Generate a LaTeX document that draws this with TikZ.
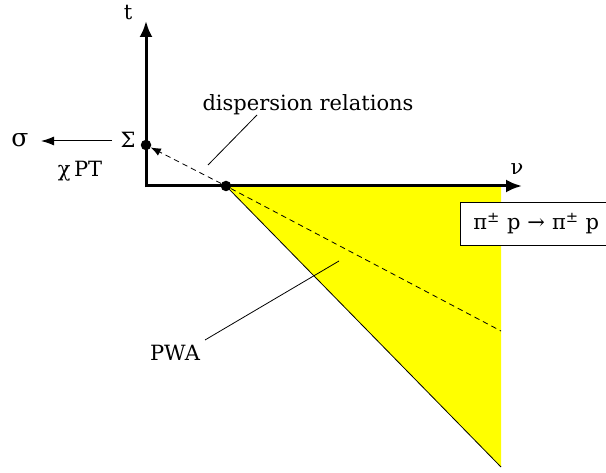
\documentclass[tikz,border=0pt]{standalone}
\usepackage{fontspec}
\setmainfont{DejaVu Serif}
\usetikzlibrary{arrows.meta}
\definecolor{pureyellow}{RGB}{255,255,0}
\tikzset{
  lbl/.style={inner sep=0pt, font=\fontsize{21}{24}\selectfont},
  axis/.style={line width=3pt, -{Latex[length=16pt,width=13pt]}},
  thin/.style={line width=0.8pt},
  dot/.style={circle, fill=black, inner sep=0pt, minimum size=10.5pt},
  dsh/.style={thin, dash pattern=on 5.5pt off 4pt},
}
\begin{document}
\begin{tikzpicture}[x=1pt,y=-1pt]
\useasboundingbox (0,0) rectangle (606,473);
% yellow region
\fill[pureyellow] (226,186) -- (501,186) -- (501,467) -- cycle;
\draw[thin] (226,186) -- (501,467);
% axes
\coordinate (O) at (146,186);
\coordinate (T) at (146,21);
\coordinate (N) at (522,186);
\draw[line width=3pt] (146,187.5) -- (O);
\draw[axis] (O) -- (T);
\draw[axis] (O) -- (N);
\node[lbl, anchor=base] (tl) at (128,20) {t};
\node[lbl, anchor=base] (nl) at (517,175) {ν};
% dots
\node[dot] (S) at (146,145) {};
\node[dot] (P) at (226,186) {};
\coordinate (Dend) at (501,331);
% dashed line
\draw[dsh] (P) -- (Dend);
\draw[dsh, -{Latex[length=10pt,width=8pt]}] (P) -- (S);
% Sigma, sigma, chiPT
\node[lbl, anchor=base] (Sig) at (128,148) {Σ};
\node[lbl, anchor=base, font=\fontsize{25}{28}\selectfont] (sig) at (20,147) {σ};
\coordinate (a1) at (112,141);
\coordinate (a2) at (41,141);
\draw[line width=1pt, -{Latex[length=13pt,width=9pt]}] (a1) -- (a2);
\node[lbl, anchor=base] (chi) at (80,177) {χ\,PT};
% dispersion relations
\node[lbl, anchor=base] (disp) at (308,111) {dispersion relations};
\coordinate (d1) at (257,115);
\coordinate (d2) at (208,165);
\draw[thin] (d1) -- (d2);
% PWA
\node[lbl, anchor=base] (pwa) at (175,361) {PWA};
\coordinate (p1) at (205,340);
\coordinate (p2) at (339,261);
\draw[thin] (p1) -- (p2);
% box
\node[lbl, draw, thin, fill=white, anchor=north west, minimum height=43pt, text depth=5pt, inner xsep=13pt, inner ysep=0pt, text width=160pt, align=left] (box) at (460,202) {π\textsuperscript{±} p → π\textsuperscript{±} p};
\end{tikzpicture}
\end{document}
